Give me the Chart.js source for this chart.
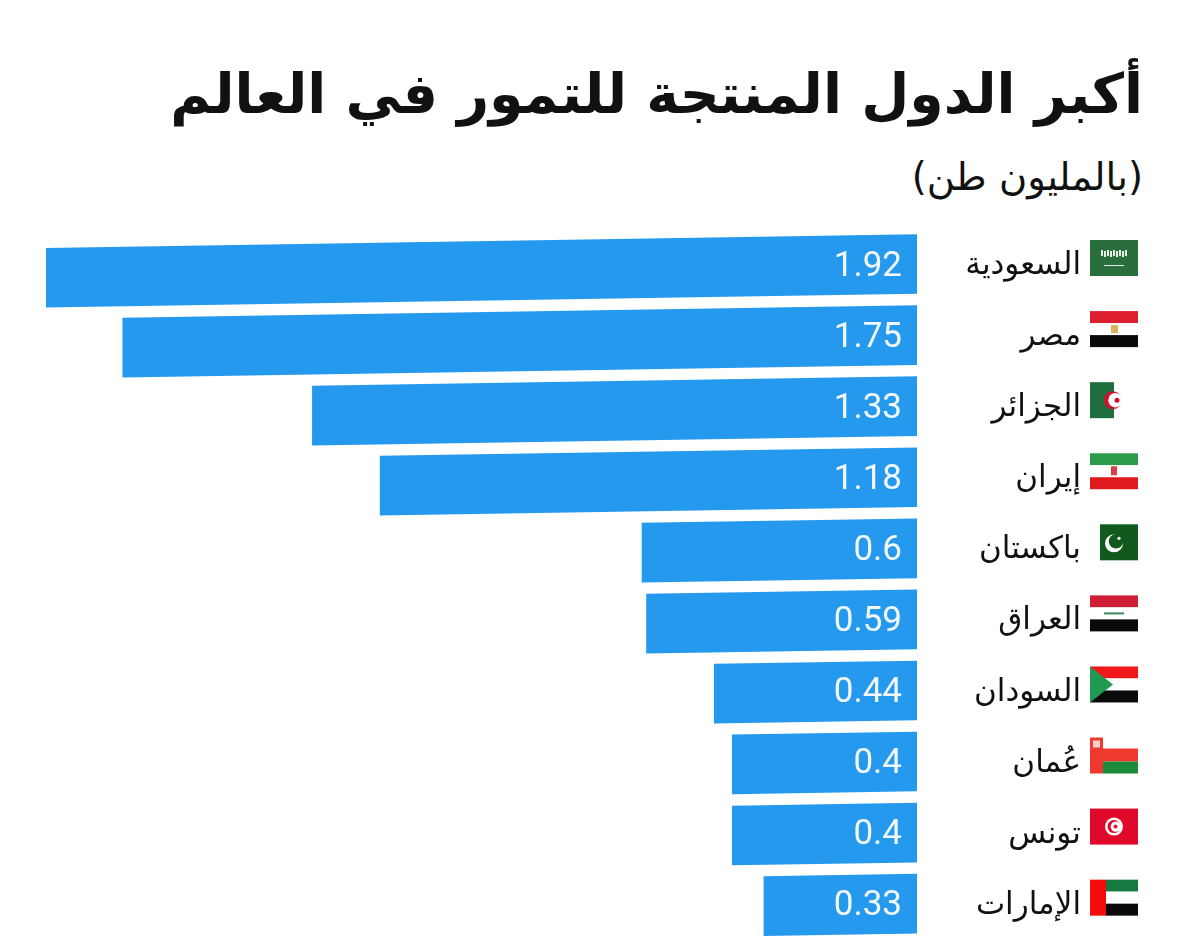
<!DOCTYPE html>
<html lang="ar">
<head>
<meta charset="utf-8">
<title>أكبر الدول المنتجة للتمور في العالم</title>
<script src="https://cdn.jsdelivr.net/npm/chart.js@4"></script>
<style>
  html, body { margin: 0; padding: 0; background: #fff; }
  #wrap { position: relative; width: 1200px; height: 952px; overflow: hidden; }
  #titulo, #subtitulo { position: absolute; right: 57px; white-space: nowrap; color: #111; font-family: "DejaVu Sans", sans-serif; direction: rtl; }
  #titulo { top: 54px; font-size: 55.4px; font-weight: bold; line-height: 80px; }
  #subtitulo { top: 152px; font-size: 38.5px; line-height: 50px; }
  canvas { position: absolute; left: 0; top: 0; }
</style>
</head>
<body>
<div id="wrap">
  <div id="titulo">أكبر الدول المنتجة للتمور في العالم</div>
  <div id="subtitulo">(بالمليون طن)</div>
  <canvas id="myChart" width="1200" height="952"></canvas>
</div>
<script>
const paises = ["السعودية", "مصر", "الجزائر", "إيران", "باكستان", "العراق", "السودان", "عُمان", "تونس", "الإمارات"];
const producao = [1.92, 1.75, 1.33, 1.18, 0.6, 0.59, 0.44, 0.4, 0.4, 0.33];
const bandeiras = ["sa", "eg", "dz", "ir", "pk", "iq", "sd", "om", "tn", "ae"];

const AZUL = "#2499ee";
const INCLINACAO = -0.0157; // the bars lean slightly in the original
const BORDA_DIREITA = 917;
const BORDA_TEXTO = 1081;

const bloco = (c, cor, x, y, w, h) => {
  c.fillStyle = cor;
  c.fillRect(x, y, w, h);
};

const listras = (c, x, y, w, h, cores) => {
  cores.forEach((cor, i) => bloco(c, cor, x, y + i * h / 3, w, h / 3));
};

const crescente = (c, cx, cy, r, cor, fundo, dx, dy = 0) => {
  c.fillStyle = cor;
  c.beginPath(); c.arc(cx, cy, r, 0, Math.PI * 2); c.fill();
  c.fillStyle = fundo;
  c.beginPath(); c.arc(cx + dx, cy + dy, r * 0.8, 0, Math.PI * 2); c.fill();
};

const desenhos = {
  sa(c, x, y, w, h) {
    bloco(c, "#2a6e3c", x, y, w, h);
    for (let i = 0; i < 9; i++) bloco(c, "#e8efe8", x + 11 + i * 3, y + 10 + (i % 2), 2, 6);
    bloco(c, "#e8efe8", x + 14, y + 25, 20, 1);
  },
  eg(c, x, y, w, h) {
    listras(c, x, y, w, h, ["#dc1e2d", "#ffffff", "#0a0a0a"]);
    bloco(c, "#d9b45a", x + 21, y + 14, 7, 8);
  },
  dz(c, x, y, w, h) {
    bloco(c, "#1f6e3e", x, y, 24, h);
    crescente(c, x + 23, y + 18, 9, "#d2102f", "#ffffff", 2.5);
    c.fillStyle = "#d2102f";
    c.beginPath(); c.arc(x + 27, y + 18, 2.5, 0, Math.PI * 2); c.fill();
  },
  ir(c, x, y, w, h) {
    listras(c, x, y, w, h, ["#2d9c4a", "#ffffff", "#e01a1f"]);
    bloco(c, "#d8404a", x + 21, y + 13, 6, 9);
  },
  pk(c, x, y, w, h) {
    bloco(c, "#0f5a1c", x + 10, y, w - 10, h);
    crescente(c, x + 24, y + 19, 9, "#ffffff", "#0f5a1c", 2, -2);
    c.fillStyle = "#ffffff";
    c.beginPath(); c.arc(x + 29, y + 14, 1.6, 0, Math.PI * 2); c.fill();
  },
  iq(c, x, y, w, h) {
    listras(c, x, y, w, h, ["#ce1f35", "#ffffff", "#0a0a0a"]);
    bloco(c, "#3d8f5a", x + 14, y + 17, 20, 2);
  },
  sd(c, x, y, w, h) {
    listras(c, x, y, w, h, ["#f01818", "#ffffff", "#0a0a0a"]);
    c.fillStyle = "#1f9a50";
    c.beginPath(); c.moveTo(x, y); c.lineTo(x + 23, y + h / 2); c.lineTo(x, y + h); c.closePath(); c.fill();
  },
  om(c, x, y, w, h) {
    bloco(c, "#ee3a2e", x, y, 13, h);
    bloco(c, "#ffffff", x + 13, y, w - 13, 11);
    bloco(c, "#ee3a2e", x + 13, y + 11, w - 13, 13);
    bloco(c, "#1c8c3c", x + 13, y + 24, w - 13, 12);
    bloco(c, "#f4d0cc", x + 3, y + 3, 7, 7);
  },
  tn(c, x, y, w, h) {
    bloco(c, "#e0092a", x, y, w, h);
    c.fillStyle = "#ffffff";
    c.beginPath(); c.arc(x + 24, y + 18, 9, 0, Math.PI * 2); c.fill();
    crescente(c, x + 24, y + 18, 6.5, "#e0092a", "#ffffff", 1.8);
    c.fillStyle = "#e0092a";
    c.beginPath(); c.arc(x + 25.5, y + 18, 2, 0, Math.PI * 2); c.fill();
  },
  ae(c, x, y, w, h) {
    listras(c, x + 16, y, w - 16, h, ["#157a40", "#ffffff", "#0a0a0a"]);
    bloco(c, "#f60a0a", x, y, 16, h);
  }
};

// skew only the bars, everything else stays upright
const pluginInclinacao = {
  id: "inclinacao",
  beforeDatasetsDraw(chart) {
    const c = chart.ctx;
    c.save();
    c.transform(1, INCLINACAO, 0, 1, 0, -INCLINACAO * BORDA_DIREITA);
  },
  afterDatasetsDraw(chart) {
    chart.ctx.restore();
  }
};

const pluginRotulos = {
  id: "rotulos",
  afterDraw(chart) {
    const c = chart.ctx;
    const y = chart.scales.y;
    c.save();
    c.font = "35px Roboto";
    c.fillStyle = "#f2f8fe";
    c.textAlign = "right";
    c.textBaseline = "middle";
    producao.forEach((v, i) => {
      c.fillText(String(v), chart.chartArea.right - 15, y.getPixelForValue(i) + 3);
    });
    bandeiras.forEach((b, i) => {
      desenhos[b](c, 1090, y.getPixelForValue(i) - 24, 48, 36);
    });
    c.restore();
  }
};

const ctx = document.getElementById("myChart");

new Chart(ctx, {
  type: "bar",
  data: {
    labels: paises,
    datasets: [{
      data: producao,
      backgroundColor: AZUL,
      borderWidth: 0,
      barThickness: 59,
      base: -0.009
    }]
  },
  options: {
    indexAxis: "y",
    responsive: false,
    animation: false,
    layout: { padding: { top: 228.5, bottom: 12.8, left: 46, right: 1200 - BORDA_TEXTO } },
    plugins: {
      legend: { display: false },
      tooltip: { enabled: false },
      title: { display: false }
    },
    scales: {
      x: {
        reverse: true,
        min: -0.009,
        max: 1.92,
        display: false,
        grid: { display: false }
      },
      y: {
        position: "right",
        grid: { display: false, drawTicks: false },
        border: { display: false },
        afterFit(axis) {
          axis.width = BORDA_TEXTO - BORDA_DIREITA;
          axis.paddingTop = 0;
          axis.paddingBottom = 0;
        },
        ticks: {
          crossAlign: "far",
          padding: 0,
          labelOffset: 2,
          color: "#111",
          autoSkip: false,
          font: { family: "'DejaVu Sans', sans-serif", size: 31 }
        }
      }
    }
  },
  plugins: [pluginInclinacao, pluginRotulos]
});
</script>
</body>
</html>
